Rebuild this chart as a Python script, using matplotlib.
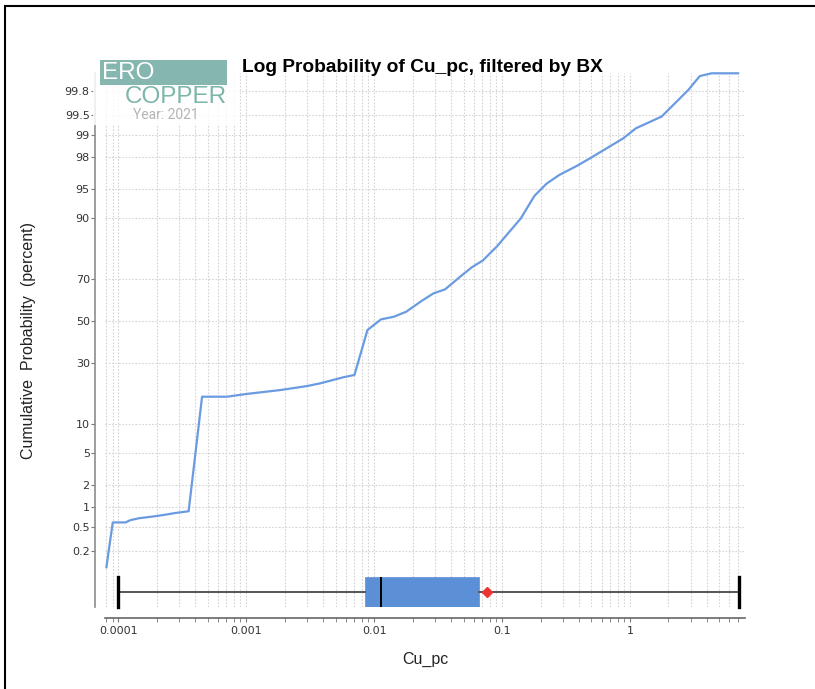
#!/usr/bin/env python3
"""
Log probability plot of Cu_pc with box plot underneath
"""
from statistics import NormalDist
import numpy as np
import matplotlib
matplotlib.use('Agg')
import matplotlib.pyplot as plt
from matplotlib.patches import Rectangle
from matplotlib.ticker import LogLocator, NullFormatter, NullLocator

# 数据
cu_pc = [8.05e-5, 9.03e-5, 1.135e-4, 1.24e-4, 1.44e-4, 2.0e-4, 2.33e-4, 2.79e-4,
         3.54e-4, 4.51e-4, 7.06e-4, 1.01e-3, 1.845e-3, 2.98e-3, 3.79e-3, 5.75e-3,
         7.01e-3, 8.86e-3, 1.13e-2, 1.42e-2, 1.78e-2, 2.36e-2, 2.91e-2, 3.59e-2,
         4.70e-2, 5.80e-2, 7.06e-2, 9.1e-2, 0.140, 0.179, 0.223, 0.280, 0.384,
         0.487, 0.676, 0.887, 1.114, 1.77, 2.25, 2.86, 3.52, 4.35, 7.02]
cum_prob = [0.104, 0.59, 0.59, 0.64, 0.683, 0.74, 0.774, 0.82, 0.87, 17.2, 17.2,
            18.1, 19.4, 20.8, 21.8, 24.1, 25.0, 45.5, 50.8, 52.1, 54.6, 60.0,
            63.5, 65.4, 71.0, 74.9, 77.5, 82.4, 90.0, 94.1, 95.7, 96.6, 97.37,
            97.90, 98.50, 98.88, 99.20, 99.47, 99.675, 99.806, 99.89, 99.902,
            99.902]

box_stats = dict(whislo=0.0001, q1=0.0085, med=0.0113, q3=0.066,
                 whishi=7.1, mean=0.0764)

y_ticks = [0.2, 0.5, 1, 2, 5, 10, 30, 50, 70, 90, 95, 98, 99, 99.5, 99.8]
y_tick_labels = ['0.2', '0.5', '1', '2', '5', '10', '30', '50', '70', '90',
                 '95', '98', '99', '99.5', '99.8']
x_ticks = [0.0001, 0.001, 0.01, 0.1, 1]
x_tick_labels = ['0.0001', '0.001', '0.01', '0.1', '1']

_nd = NormalDist()
_ppf = np.vectorize(_nd.inv_cdf, otypes=[float])
_cdf = np.vectorize(_nd.cdf, otypes=[float])


def prob_fwd(p):
    p = np.clip(np.asarray(p, dtype=float) / 100.0, 1e-12, 1 - 1e-12)
    return _ppf(p)


def prob_inv(z):
    return _cdf(np.asarray(z, dtype=float)) * 100.0


W, H = 815, 689
fig = plt.figure(figsize=(W / 100, H / 100), dpi=100)
ax = fig.add_axes([105 / W, 1 - 607 / H, 640 / W, 534 / H])

# 概率刻度
ax.set_xscale('log')
ax.set_yscale('function', functions=(prob_fwd, prob_inv))
ax.set_xlim(10 ** -4.105, 10 ** 0.9)
ax.set_ylim(prob_inv(-3.575), prob_inv(3.1))

ax.plot(cu_pc, cum_prob, color='#6a9be0', lw=1.6, zorder=3, clip_on=False)

ax.set_yticks(y_ticks, y_tick_labels)
ax.set_xticks(x_ticks, x_tick_labels)
ax.xaxis.set_minor_locator(LogLocator(base=10, subs=np.arange(2, 10)))
ax.xaxis.set_minor_formatter(NullFormatter())
ax.yaxis.set_minor_locator(NullLocator())

grid_kw = dict(color='#d4d4d4', linestyle=(0, (1.5, 1.5)), linewidth=0.8)
ax.grid(True, which='both', axis='x', **grid_kw)
ax.grid(True, which='major', axis='y', **grid_kw)
ax.set_axisbelow(True)

for side in ('top', 'right'):
    ax.spines[side].set_visible(False)
ax.spines['left'].set_position(('outward', 7))
ax.spines['bottom'].set_position(('outward', 8))
ax.spines['left'].set_color('#8c8c8c')
ax.spines['bottom'].set_color('#666666')
ax.spines['left'].set_linewidth(1.2)
ax.spines['bottom'].set_linewidth(1.2)
ax.tick_params(axis='both', which='both', colors='#777777', labelcolor='#333333',
               labelsize=8)
ax.tick_params(axis='y', length=3, pad=1)
ax.tick_params(axis='x', which='major', length=3, pad=3)
ax.tick_params(axis='x', which='minor', length=3)

ax.set_xlabel('Cu_pc', fontsize=11.5, family='Liberation Sans', color='#222222')
ax.xaxis.set_label_coords((425 - 105) / 640, (607 - 652) / 534)
ax.set_ylabel('Cumulative  Probability  (percent)', fontsize=11.5,
              family='Liberation Sans', color='#222222')
ax.yaxis.set_label_coords((36 - 105) / 640, (607 - 340) / 534)

# 箱线图
bx = ax.twinx()
bx.set_ylim(0, 1)
bx.bxp([box_stats], positions=[0.028], widths=0.056, vert=False, showmeans=True,
       showfliers=False, patch_artist=True, capwidths=0.056,
       boxprops=dict(facecolor='#5b8fd6', edgecolor='#5b8fd6', linewidth=0.5),
       medianprops=dict(color='black', linewidth=1.4),
       whiskerprops=dict(color='#555555', linewidth=1.4),
       capprops=dict(color='black', linewidth=2.4),
       meanprops=dict(marker='D', markerfacecolor='#ee3333',
                      markeredgecolor='#ee3333', markersize=5))
bx.set_ylim(0, 1)
bx.axis('off')
for c in bx.lines:
    c.set_clip_on(False)

# 标题
fig.text(422 / W, 1 - 67 / H, 'Log Probability of Cu_pc, filtered by BX',
         ha='center', va='center', fontsize=13.8, fontweight='bold',
         family='Liberation Sans')

# logo
fig.patches.append(Rectangle((93 / W, 1 - 125 / H), 147 / W, 72 / H,
                             transform=fig.transFigure, facecolor='white',
                             alpha=0.85, edgecolor='none', zorder=5))
fig.patches.append(Rectangle((100 / W, 1 - 85 / H), 127 / W, 25 / H,
                             transform=fig.transFigure, facecolor='#86b6b0',
                             edgecolor='none', zorder=6))
fig.text(102 / W, 1 - 73 / H, 'ERO', color='white', fontsize=17.5,
         family='Liberation Sans', va='center', ha='left', zorder=7)
fig.text(227 / W, 1 - 97 / H, 'COPPER', color='#7db5aa', fontsize=17.5,
         family='Liberation Sans', va='center', ha='right', zorder=7)
fig.text(166 / W, 1 - 115 / H, 'Year: 2021', color='#b4b4b4', fontsize=10,
         family='Roboto', va='center', ha='center', zorder=7)

# 外框
fig.patches.append(Rectangle((5 / W, -0.05), 2.0, 1.05 - 6 / H,
                             transform=fig.transFigure, facecolor='none',
                             edgecolor='black', linewidth=1.5))

plt.savefig('out.png', dpi=100)
plt.close()
print("Saved to: out.png")
